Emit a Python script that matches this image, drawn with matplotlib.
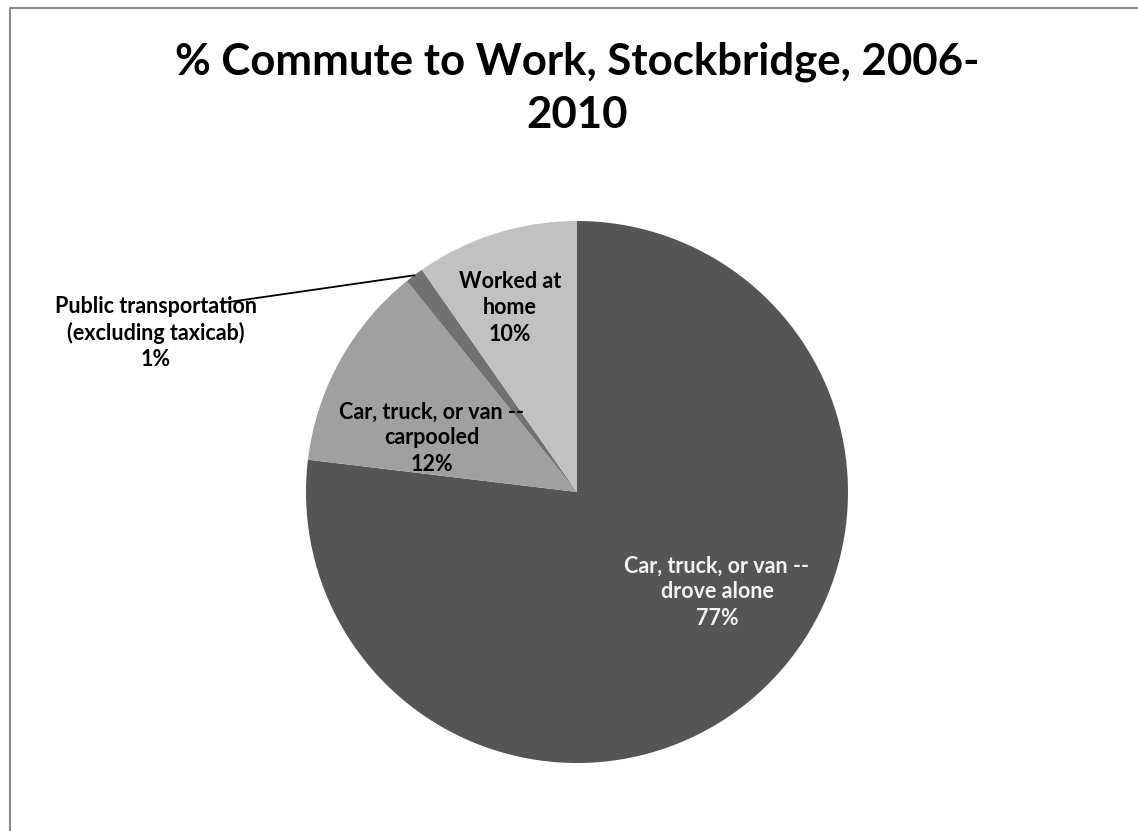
import matplotlib
matplotlib.use("Agg")
import numpy as np
import matplotlib.pyplot as plt
from matplotlib.lines import Line2D

# -----------------------
# Data
# -----------------------
categories = [
    "Car, truck, or van --\ndrove alone",
    "Car, truck, or van --\ncarpooled",
    "Public transportation\n(excluding taxicab)",
    "Worked at\nhome",
]
shares = [76.9, 12.3, 1.1, 9.7]
pct_labels = ["77%", "12%", "1%", "10%"]
colors = ["#555555", "#a0a0a0", "#717171", "#c1c1c1"]
text_colors = ["#f2f2f2", "black", "black", "black"]
title = "% Commute to Work, Stockbridge, 2006-\n2010"

# -----------------------
# Layout (pixels, origin bottom-left)
# -----------------------
W, H = 1138, 831
center = (577, H - 492)
radius = 271
label_pos = [(717, H - 592), (432, H - 438), (156, H - 333), (510, H - 308)]

fig = plt.figure(figsize=(W / 100, H / 100), dpi=100)
ax = fig.add_axes([0, 0, 1, 1])

wedges, _ = ax.pie(shares, colors=colors, startangle=90, counterclock=False,
                   center=center, radius=radius, frame=True,
                   wedgeprops=dict(linewidth=0))
ax.set_xlim(0, W)
ax.set_ylim(0, H)
ax.set_aspect("equal")
ax.axis("off")

# chart border: only top and left edges are inside the crop
bx, by = 10 / W, 1 - 8 / H
fig.add_artist(Line2D([bx, bx, 1.0], [0, by, by], transform=fig.transFigure,
                      color="#8c8c8c", lw=1.5))

font = "Lato"
for i, (cat, pct) in enumerate(zip(categories, pct_labels)):
    x, y = label_pos[i]
    ax.text(x, y, cat + "\n" + pct, ha="center", va="center",
            fontsize=15.5, fontweight="bold", family=font,
            color=text_colors[i], linespacing=1.3)

# leader line for the small slice
w = wedges[2]
mid = np.deg2rad((w.theta1 + w.theta2) / 2)
edge = (center[0] + radius * np.cos(mid), center[1] + radius * np.sin(mid))
ax.plot([222, edge[0]], [H - 303, edge[1]], color="black", lw=1.3)

fig.text(577 / W, 1 - 88 / H, title, ha="center", va="center",
         fontsize=31.5, fontweight="bold", family=font, linespacing=1.38)

fig.savefig("out.png", dpi=100)
